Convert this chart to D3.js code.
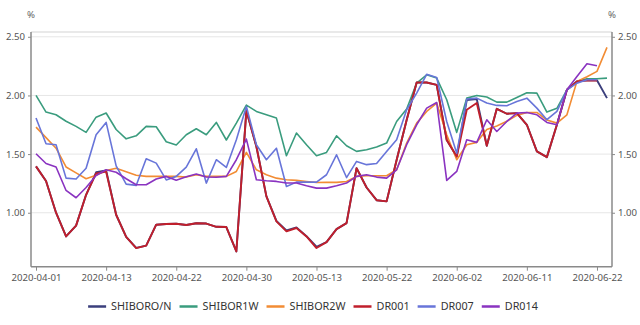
<!DOCTYPE html>
<html><head><meta charset="utf-8">
<script src="https://cdn.jsdelivr.net/npm/d3@7"></script>
<style>body{margin:0;background:#fff;}svg{display:block;font-family:"Noto Sans",sans-serif;}</style>
</head><body><svg id="c" width="640" height="325"></svg>
<script>
const dates = ["04-01","04-02","04-03","04-07","04-08","04-09","04-10","04-13","04-14","04-15","04-16","04-17","04-20","04-21","04-22","04-23","04-24","04-26","04-27","04-28","04-29","04-30","05-06","05-07","05-08","05-09","05-11","05-12","05-13","05-14","05-15","05-18","05-19","05-20","05-21","05-22","05-25","05-26","05-27","05-28","05-29","06-01","06-02","06-03","06-04","06-05","06-08","06-09","06-10","06-11","06-12","06-15","06-16","06-17","06-18","06-19","06-22","06-23"].map(d=>"2020-"+d);
const tickDates = ["2020-04-01","2020-04-13","2020-04-22","2020-04-30","2020-05-13","2020-05-22","2020-06-02","2020-06-11","2020-06-22"];
const yTicks = [1.00,1.50,2.00,2.50];
const seriesNames = ["SHIBORO/N","SHIBOR1W","SHIBOR2W","DR001","DR007","DR014"];
const shiborON = [1.395,1.27,1.00,0.798,0.89,1.153,1.345,1.36,0.983,0.795,0.70,0.72,0.898,0.904,0.906,0.895,0.91,0.908,0.88,0.878,0.67,1.87,1.565,1.139,0.93,0.85,0.875,0.80,0.71,0.75,0.86,0.911,1.38,1.215,1.107,1.097,1.45,1.79,2.11,2.11,2.09,1.62,1.48,1.96,1.97,1.571,1.886,1.844,1.849,1.75,1.523,1.474,1.75,2.048,2.12,2.13,2.13,1.977];
const shibor1W = [2.00,1.858,1.835,1.78,1.736,1.685,1.815,1.85,1.71,1.63,1.656,1.736,1.733,1.605,1.577,1.665,1.716,1.665,1.77,1.62,1.764,1.918,1.864,1.835,1.807,1.486,1.68,1.58,1.486,1.514,1.656,1.571,1.523,1.537,1.56,1.594,1.778,1.884,2.105,2.176,2.148,1.963,1.685,1.977,2.0,1.986,1.943,1.943,1.983,2.023,2.02,1.858,1.89,2.048,2.12,2.142,2.142,2.148];
const shibor2W = [1.73,1.64,1.55,1.39,1.34,1.29,1.32,1.36,1.38,1.35,1.32,1.31,1.31,1.31,1.31,1.304,1.324,1.31,1.31,1.31,1.352,1.514,1.366,1.324,1.295,1.281,1.276,1.267,1.258,1.259,1.259,1.267,1.31,1.315,1.315,1.315,1.366,1.594,1.764,1.864,1.935,1.665,1.452,1.58,1.60,1.71,1.74,1.78,1.83,1.855,1.855,1.79,1.764,1.835,2.12,2.16,2.205,2.41];
const dr001 = [1.395,1.27,1.00,0.798,0.89,1.153,1.335,1.35,0.983,0.795,0.699,0.72,0.898,0.904,0.906,0.895,0.91,0.908,0.88,0.878,0.67,1.87,1.565,1.139,0.926,0.841,0.87,0.798,0.699,0.75,0.86,0.911,1.38,1.215,1.107,1.097,1.45,1.79,2.11,2.11,2.09,1.62,1.48,1.878,1.935,1.571,1.886,1.844,1.849,1.75,1.523,1.474,1.75,2.048,2.12,2.128,2.128,null];
const dr007 = [1.807,1.588,1.58,1.295,1.287,1.38,1.665,1.77,1.40,1.244,1.233,1.46,1.423,1.28,1.31,1.389,1.545,1.253,1.452,1.386,1.622,1.906,1.58,1.452,1.55,1.224,1.261,1.261,1.261,1.324,1.494,1.30,1.4375,1.41,1.42,1.523,1.622,1.878,2.02,2.18,2.153,1.778,1.508,1.969,1.977,1.935,1.915,1.912,1.949,1.977,1.892,1.793,1.864,2.048,2.105,2.134,2.134,null];
const dr014 = [1.503,1.42,1.39,1.19,1.128,1.215,1.317,1.366,1.345,1.29,1.239,1.239,1.288,1.31,1.278,1.307,1.33,1.305,1.302,1.31,1.452,1.628,1.281,1.273,1.267,1.253,1.253,1.23,1.21,1.21,1.23,1.253,1.31,1.324,1.304,1.295,1.366,1.58,1.75,1.892,1.94,1.276,1.352,1.622,1.60,1.793,1.693,1.778,1.849,1.855,1.835,1.77,1.75,2.048,2.162,2.27,2.253,null];
const seriesValues = [shiborON, shibor1W, shibor2W, dr001, dr007, dr014];
const colors = ["#3b3f7c","#3a9c7e","#f28c34","#c01f2c","#6875d9","#8a33c0"];

const svg = d3.select("#c");
const L = 31, R = 612, T = 32.1, B = 266.7;
const x = d3.scalePoint().domain(dates).range([L, R]).padding(0.5);
const y = d3.scaleLinear().domain([0.54, 2.54]).range([B, T]);

// grid
svg.append("g").selectAll("line").data(yTicks).join("line")
  .attr("x1", L).attr("x2", R).attr("y1", d=>y(d)).attr("y2", d=>y(d))
  .attr("stroke", "#e6e6e6").attr("stroke-width", 1);
svg.append("line").attr("x1", L).attr("x2", R).attr("y1", T).attr("y2", T)
  .attr("stroke", "#e2e2e2").attr("stroke-width", 1.5);

// axes
const axL = svg.append("g").attr("transform", `translate(${L},0)`)
  .call(d3.axisLeft(y).tickValues(yTicks).tickFormat(d3.format(".2f")).tickSize(3).tickPadding(3));
const axR = svg.append("g").attr("transform", `translate(${R},0)`)
  .call(d3.axisRight(y).tickValues(yTicks).tickFormat(d3.format(".2f")).tickSize(3).tickPadding(3));
const axB = svg.append("g").attr("transform", `translate(0,${B})`)
  .call(d3.axisBottom(x).tickValues(tickDates).tickSize(4).tickPadding(3));
[axL, axR, axB].forEach(g => {
  g.select(".domain").attr("stroke", "#8a8a8a").attr("stroke-width", 1.5);
  g.selectAll(".tick line").attr("stroke", "#8a8a8a");
  g.selectAll("text").attr("fill", "#555").attr("font-size", 9.6).attr("font-family", "Noto Sans");
});
axL.select(".domain").attr("d", `M-0,${B}V${T}`);
axR.select(".domain").attr("d", `M0,${B}V${T}`);
axB.select(".domain").attr("d", `M${L},0H${R}`);

svg.append("text").attr("x", L).attr("y", 18).attr("text-anchor", "middle")
  .attr("font-size", 9.6).attr("fill", "#666").text("%");
svg.append("text").attr("x", R).attr("y", 18).attr("text-anchor", "middle")
  .attr("font-size", 9.6).attr("fill", "#666").text("%");

// lines
const line = d3.line().defined(d => d.v != null).x(d => x(d.d)).y(d => y(d.v));
seriesValues.forEach((vals, k) => {
  svg.append("path")
    .datum(dates.map((d, i) => ({d, v: vals[i]})))
    .attr("fill", "none").attr("stroke", colors[k])
    .attr("stroke-width", k === 3 || k === 0 ? 1.9 : 1.6)
    .attr("stroke-linejoin", "round")
    .attr("d", line);
});

// legend
const lg = svg.append("g");
const items = [];
seriesNames.forEach((n, k) => {
  const g = lg.append("g");
  g.append("line").attr("x1", 0).attr("x2", 18).attr("y1", 0).attr("y2", 0)
    .attr("stroke", colors[k]).attr("stroke-width", 2.5);
  const t = g.append("text").attr("x", 23).attr("y", 0).attr("dy", "0.35em")
    .attr("font-size", 10.8).attr("fill", "#333").text(n);
  const w = 23 + t.node().getComputedTextLength();
  items.push({g, w});
});
const gap = 8;
const total = d3.sum(items, d => d.w) + gap * (items.length - 1);
let start = 313 - total / 2;
items.forEach(it => { it.g.attr("transform", `translate(${start},306.5)`); start += it.w + gap; });
</script></body></html>
